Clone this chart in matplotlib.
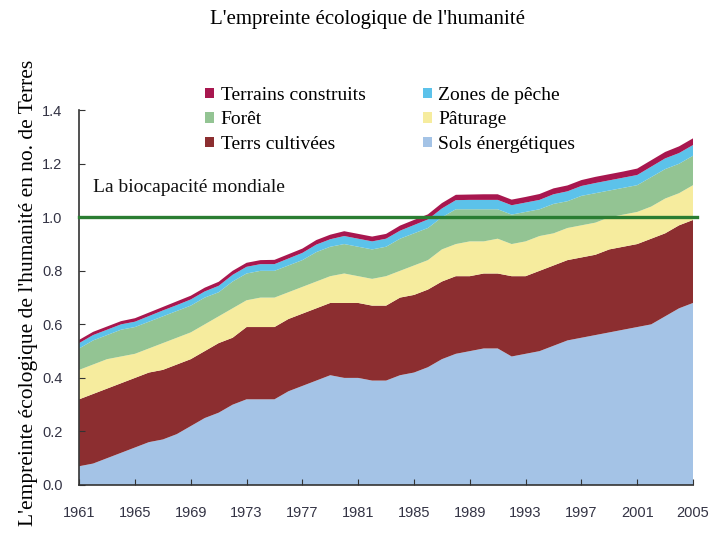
import matplotlib
matplotlib.use("Agg")
import matplotlib.pyplot as plt
from matplotlib.patches import Patch
import numpy as np

# Années et empreinte par composante (en nombre de Terres)
years = list(range(1961, 2006))

sols_energetiques = [0.07, 0.08, 0.10, 0.12, 0.14, 0.16, 0.17, 0.19, 0.22, 0.25,
                     0.27, 0.30, 0.32, 0.32, 0.32, 0.35, 0.37, 0.39, 0.41, 0.40,
                     0.40, 0.39, 0.39, 0.41, 0.42, 0.44, 0.47, 0.49, 0.50, 0.51,
                     0.51, 0.48, 0.49, 0.50, 0.52, 0.54, 0.55, 0.56, 0.57, 0.58,
                     0.59, 0.60, 0.63, 0.66, 0.68]
terres_cultivees = [0.25, 0.26, 0.26, 0.26, 0.26, 0.26, 0.26, 0.26, 0.25, 0.25,
                    0.26, 0.25, 0.27, 0.27, 0.27, 0.27, 0.27, 0.27, 0.27, 0.28,
                    0.28, 0.28, 0.28, 0.29, 0.29, 0.29, 0.29, 0.29, 0.28, 0.28,
                    0.28, 0.30, 0.29, 0.30, 0.30, 0.30, 0.30, 0.30, 0.31, 0.31,
                    0.31, 0.32, 0.31, 0.31, 0.31]
paturage = [0.11, 0.11, 0.11, 0.10, 0.09, 0.09, 0.10, 0.10, 0.10, 0.10,
            0.10, 0.11, 0.10, 0.11, 0.11, 0.10, 0.10, 0.10, 0.10, 0.11,
            0.10, 0.10, 0.11, 0.10, 0.11, 0.11, 0.12, 0.12, 0.13, 0.12,
            0.13, 0.12, 0.13, 0.13, 0.12, 0.12, 0.12, 0.12, 0.12, 0.12,
            0.12, 0.12, 0.13, 0.12, 0.13]
foret = [0.08, 0.09, 0.09, 0.10, 0.10, 0.10, 0.10, 0.10, 0.10, 0.10,
         0.09, 0.10, 0.10, 0.10, 0.10, 0.10, 0.10, 0.11, 0.11, 0.11,
         0.11, 0.11, 0.11, 0.12, 0.12, 0.12, 0.12, 0.13, 0.12, 0.12,
         0.11, 0.11, 0.11, 0.10, 0.11, 0.10, 0.11, 0.11, 0.10, 0.10,
         0.10, 0.11, 0.11, 0.11, 0.11]
zones_peche = [0.020, 0.020, 0.020, 0.020, 0.020, 0.021, 0.022, 0.022, 0.023, 0.023,
               0.024, 0.025, 0.025, 0.025, 0.025, 0.026, 0.027, 0.028, 0.028, 0.030,
               0.030, 0.030, 0.030, 0.030, 0.031, 0.032, 0.033, 0.034, 0.035, 0.035,
               0.035, 0.035, 0.035, 0.035, 0.036, 0.037, 0.037, 0.038, 0.038, 0.038,
               0.038, 0.039, 0.040, 0.040, 0.040]
terrains_construits = [0.012, 0.012, 0.012, 0.012, 0.013, 0.013, 0.013, 0.014, 0.014, 0.014,
                       0.015, 0.015, 0.015, 0.015, 0.016, 0.016, 0.016, 0.017, 0.017, 0.018,
                       0.018, 0.018, 0.018, 0.019, 0.019, 0.019, 0.020, 0.020, 0.020, 0.021,
                       0.021, 0.021, 0.021, 0.022, 0.022, 0.022, 0.022, 0.023, 0.023, 0.023,
                       0.024, 0.024, 0.024, 0.025, 0.025]
biocapacite = 1.0

couleurs = {
    'Sols énergétiques': '#a4c3e6',
    'Terrs cultivées': '#8c2e30',
    'Pâturage': '#f6ec9e',
    'Forêt': '#93c493',
    'Zones de pêche': '#5cc2ea',
    'Terrains construits': '#a8174f',
}

serif = 'Liberation Serif'
sans = 'Liberation Sans'

fig = plt.figure(figsize=(7.13, 5.35), dpi=100)
ax = fig.add_axes([0.111, 0.0935, 0.861, 0.7005])

couches = [sols_energetiques, terres_cultivees, paturage, foret, zones_peche, terrains_construits]
noms = ['Sols énergétiques', 'Terrs cultivées', 'Pâturage', 'Forêt', 'Zones de pêche', 'Terrains construits']
ax.stackplot(years, *couches, colors=[couleurs[n] for n in noms], linewidth=0)

ax.plot([1961, 2005.3], [biocapacite, biocapacite], color='#2a7d32', lw=2.4, clip_on=False, zorder=5)
ax.text(1962, 1.11, 'La biocapacité mondiale', family=serif, fontsize=14,
        va='center', ha='left', color='#111111')

ax.set_xlim(1961, 2005)
ax.set_ylim(0, 1.4)
ax.set_xticks(range(1961, 2006, 4))
ax.set_yticks(np.arange(0, 1.41, 0.2))
ax.set_yticklabels([f'{v:.1f}' for v in np.arange(0, 1.41, 0.2)])
for s in ['top', 'right']:
    ax.spines[s].set_visible(False)
for s in ['left', 'bottom']:
    ax.spines[s].set_color('#333333')
    ax.spines[s].set_linewidth(1.2)
ax.tick_params(axis='both', direction='in', length=4, color='#333333', labelcolor='#333344')
ax.tick_params(axis='x', pad=15)
ax.tick_params(axis='y', pad=12)
for lab in ax.get_xticklabels() + ax.get_yticklabels():
    lab.set_family(sans)
    lab.set_fontsize(10.5)

ax.set_ylabel("L'empreinte écologique de l'humanité en no. de Terres", family=serif,
              fontsize=15.5)
ax.yaxis.set_label_coords(-0.067, 0.512)

fig.text(0.515, 0.963, "L'empreinte écologique de l'humanité", family=serif, fontsize=15,
         ha='center', va='center')

ordre = ['Terrains construits', 'Forêt', 'Terrs cultivées',
         'Zones de pêche', 'Pâturage', 'Sols énergétiques']
poignees = [Patch(facecolor=couleurs[n], edgecolor='none', label=n) for n in ordre]
fig.legend(handles=poignees, ncol=2, frameon=False, loc='upper left',
           bbox_to_anchor=(0.263, 0.87), prop={'family': serif, 'size': 14},
           handlelength=0.45, handleheight=0.45, handletextpad=0.35,
           columnspacing=2.95, labelspacing=0.38, borderpad=0.4)

fig.savefig('out.png', dpi=100)
